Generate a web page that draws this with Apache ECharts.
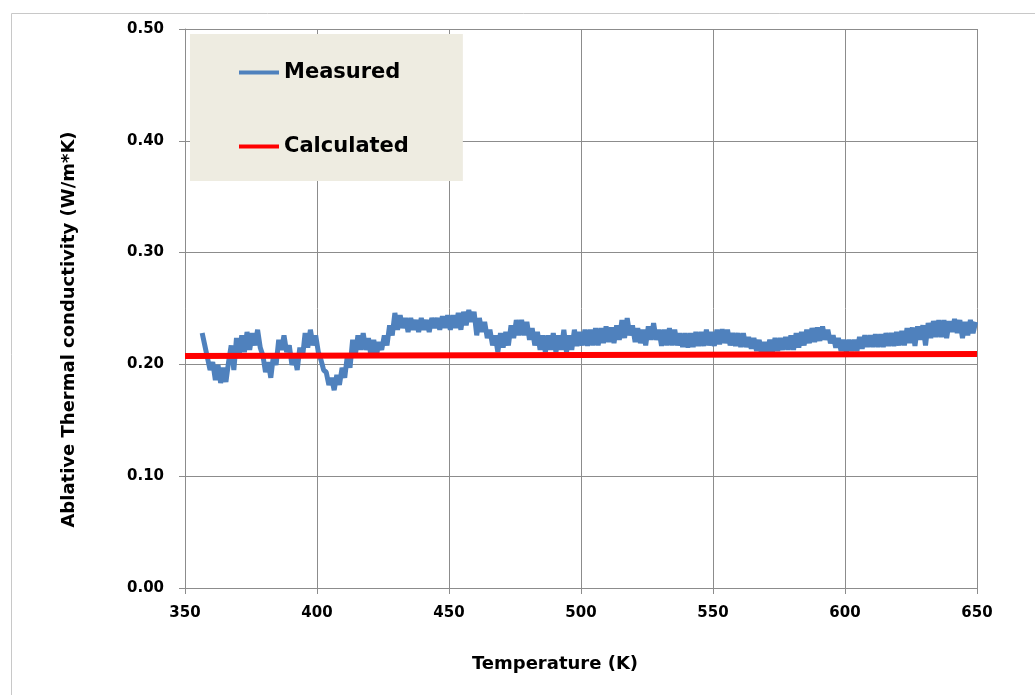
<!DOCTYPE html>
<html>
<head>
<meta charset="utf-8">
<script src="https://cdn.jsdelivr.net/npm/echarts@6/dist/echarts.min.js"></script>
<style>
  html, body { margin: 0; padding: 0; background: #fff; }
  #chart { width: 1035px; height: 695px; }
</style>
</head>
<body>
<div id="chart"></div>
<script>
// measured samples, one per kelvin starting at 356.5 K
const measuredStartT = 356.5;
const measuredStepT = 1;
const measuredK = [
  0.228, 0.217, 0.206, 0.195, 0.202, 0.186, 0.1995, 0.1834, 0.197, 0.1843,
  0.202, 0.217, 0.195, 0.2236, 0.208, 0.226, 0.211, 0.229, 0.213, 0.228,
  0.217, 0.231, 0.215, 0.208, 0.193, 0.202, 0.188, 0.208, 0.1995, 0.222,
  0.213, 0.226, 0.211, 0.217, 0.1995, 0.208, 0.195, 0.215, 0.206, 0.228,
  0.215, 0.231, 0.217, 0.226, 0.211, 0.204, 0.195, 0.193, 0.1816, 0.188,
  0.177, 0.1905, 0.1816, 0.197, 0.188, 0.208, 0.197, 0.222, 0.208, 0.226,
  0.213, 0.228, 0.213, 0.2236, 0.206, 0.222, 0.208, 0.220, 0.213, 0.226,
  0.217, 0.235, 0.226, 0.246, 0.231, 0.244, 0.2325, 0.2415, 0.229, 0.2415,
  0.231, 0.2397, 0.229, 0.2415, 0.231, 0.2397, 0.229, 0.2415, 0.2325, 0.2415,
  0.231, 0.243, 0.2325, 0.244, 0.231, 0.244, 0.2325, 0.246, 0.231, 0.247,
  0.235, 0.2487, 0.238, 0.247, 0.226, 0.2415, 0.229, 0.238, 0.2236, 0.231,
  0.217, 0.226, 0.211, 0.228, 0.215, 0.229, 0.217, 0.235, 0.2236, 0.2397,
  0.226, 0.2397, 0.226, 0.238, 0.222, 0.2325, 0.217, 0.229, 0.213, 0.226,
  0.211, 0.226, 0.213, 0.228, 0.211, 0.226, 0.213, 0.231, 0.211, 0.226,
  0.213, 0.231, 0.2165, 0.229, 0.217, 0.231, 0.2165, 0.231, 0.217, 0.2325,
  0.217, 0.2325, 0.219, 0.234, 0.220, 0.233, 0.219, 0.235, 0.222, 0.2397,
  0.2236, 0.2415, 0.226, 0.235, 0.220, 0.2325, 0.219, 0.231, 0.217, 0.234,
  0.222, 0.237, 0.222, 0.231, 0.2165, 0.231, 0.217, 0.2325, 0.217, 0.231,
  0.217, 0.228, 0.2155, 0.228, 0.215, 0.228, 0.2155, 0.229, 0.2165, 0.229,
  0.2165, 0.231, 0.217, 0.229, 0.2165, 0.231, 0.218, 0.2315, 0.219, 0.231,
  0.217, 0.228, 0.2165, 0.228, 0.2155, 0.228, 0.2155, 0.2245, 0.214, 0.2236,
  0.212, 0.222, 0.2075, 0.220, 0.211, 0.222, 0.211, 0.2236, 0.212, 0.2236,
  0.213, 0.2245, 0.213, 0.226, 0.213, 0.228, 0.215, 0.229, 0.217, 0.231,
  0.219, 0.2325, 0.220, 0.233, 0.221, 0.234, 0.222, 0.231, 0.219, 0.226,
  0.215, 0.2236, 0.212, 0.222, 0.211, 0.222, 0.212, 0.222, 0.212, 0.2245,
  0.214, 0.226, 0.2155, 0.226, 0.2155, 0.227, 0.2155, 0.227, 0.2155, 0.228,
  0.2165, 0.228, 0.2165, 0.229, 0.217, 0.230, 0.217, 0.2325, 0.219, 0.233,
  0.2165, 0.234, 0.222, 0.235, 0.217, 0.237, 0.2236, 0.2388, 0.2245, 0.2397,
  0.2245, 0.2397, 0.2236, 0.2388, 0.229, 0.2406, 0.228, 0.2397, 0.2236, 0.238,
  0.226, 0.2397, 0.228, 0.238
];

const calcT = [350, 650];
const calcK = [0.2075, 0.2093];

const xTicks = [350, 400, 450, 500, 550, 600, 650];
const yTicks = [0, 0.1, 0.2, 0.3, 0.4, 0.5];

const measured = measuredK.map((v, i) => [measuredStartT + i * measuredStepT, v]);
const calculated = calcT.map((t, i) => [t, calcK[i]]);

const FONT = 'DejaVu Sans';
const GRID = '#8c8c8c';

const chart = echarts.init(document.getElementById('chart'));
chart.setOption({
  animation: false,
  backgroundColor: '#fff',
  graphic: [{
    type: 'rect',
    shape: { x: 11.5, y: 13.5, width: 1040, height: 700 },
    style: { fill: 'none', stroke: '#c8c8c8', lineWidth: 1 },
    z: -1
  }],
  grid: { left: 185, right: 58, top: 29, bottom: 107 },
  legend: {
    left: 190, top: 34,
    orient: 'vertical',
    backgroundColor: '#EEECE1',
    padding: [28, 54, 24, 49],
    itemGap: 53,
    itemWidth: 40,
    itemHeight: 4,
    icon: 'rect',
    textStyle: { fontFamily: FONT, fontWeight: 'bold', fontSize: 21, color: '#000', lineHeight: 20 },
    data: ['Measured', 'Calculated']
  },
  xAxis: {
    type: 'value',
    min: xTicks[0], max: xTicks[xTicks.length - 1], interval: 50,
    name: 'Temperature (K)',
    nameLocation: 'middle', nameGap: 67,
    nameTextStyle: { fontFamily: FONT, fontWeight: 'bold', fontSize: 18, color: '#000', padding: [0, 52, 0, 0] },
    axisLine: { lineStyle: { color: GRID, width: 1 } },
    axisTick: { show: true, length: 6, lineStyle: { color: GRID } },
    axisLabel: { margin: 18, fontFamily: FONT, fontWeight: 'bold', fontSize: 15, color: '#000' },
    splitLine: { show: true, lineStyle: { color: GRID, width: 1 } }
  },
  yAxis: {
    type: 'value',
    min: yTicks[0], max: yTicks[yTicks.length - 1], interval: 0.1,
    name: 'Ablative Thermal conductivity (W/m*K)',
    nameLocation: 'middle', nameGap: 107,
    nameTextStyle: { fontFamily: FONT, fontWeight: 'bold', fontSize: 18, color: '#000', padding: [0, 42, 0, 0] },
    axisLine: { show: true, lineStyle: { color: GRID, width: 1 } },
    axisTick: { show: true, length: 6, lineStyle: { color: GRID } },
    axisLabel: {
      margin: 21, fontFamily: FONT, fontWeight: 'bold', fontSize: 15, color: '#000',
      formatter: v => v.toFixed(2)
    },
    splitLine: { show: true, lineStyle: { color: GRID, width: 1 } }
  },
  series: [
    {
      name: 'Measured', type: 'line', data: measured,
      symbol: 'none', smooth: false,
      lineStyle: { color: '#4F81BD', width: 5 },
      itemStyle: { color: '#4F81BD' }
    },
    {
      name: 'Calculated', type: 'line', data: calculated,
      symbol: 'none',
      lineStyle: { color: '#FF0000', width: 6 },
      itemStyle: { color: '#FF0000' }
    }
  ]
});
</script>
</body>
</html>
